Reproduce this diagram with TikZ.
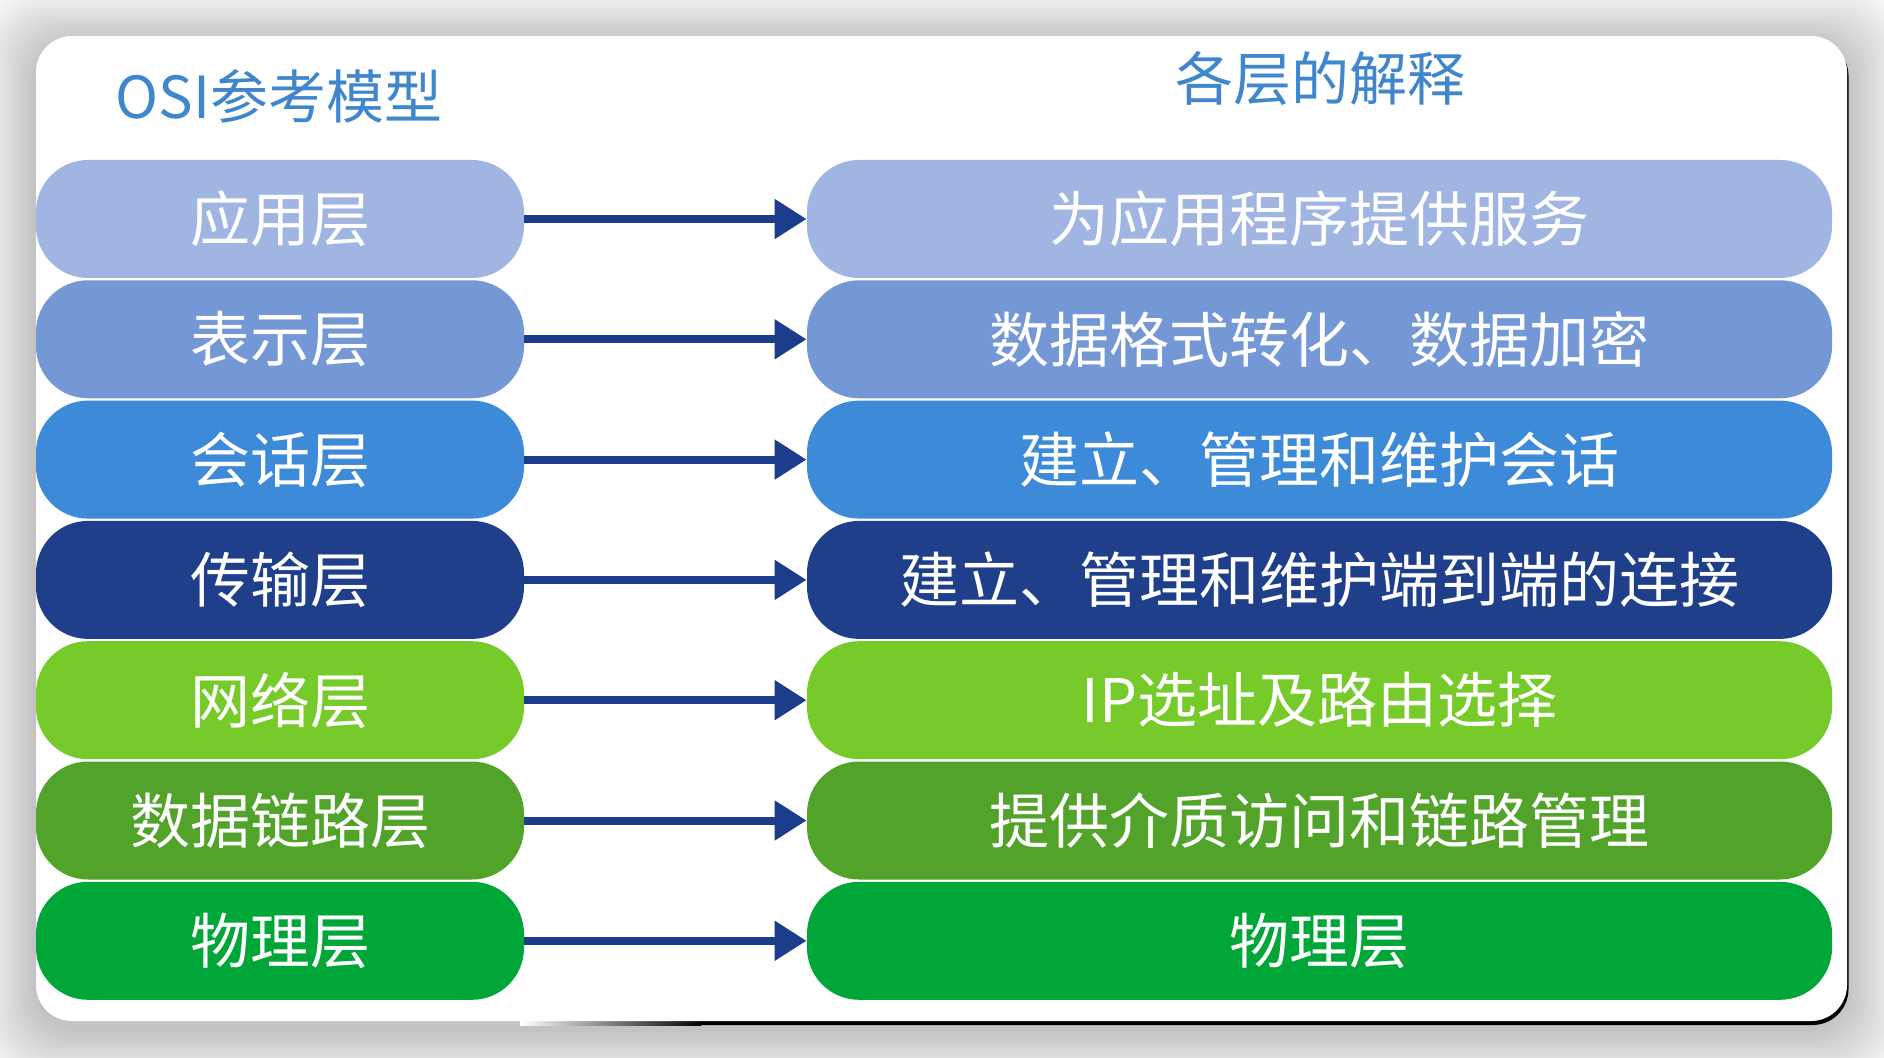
\documentclass[tikz,border=0pt]{standalone}
\usepackage{fontspec}
\setmainfont{Noto Sans CJK SC}
\usetikzlibrary{arrows.meta}
\definecolor{c1}{HTML}{A0B5E2}
\definecolor{c2}{HTML}{7497D6}
\definecolor{c3}{HTML}{3D8AD8}
\definecolor{c4}{HTML}{1F3F8B}
\definecolor{c5}{HTML}{76CB2A}
\definecolor{c6}{HTML}{52A32A}
\definecolor{c7}{HTML}{00A638}
\definecolor{arrowc}{HTML}{1C3D8C}
\definecolor{titlec}{HTML}{3F86CC}
\tikzset{
  layer/.style={rounded corners=26pt, minimum height=59pt, inner sep=0pt, text=white, font=\fontsize{30}{36}\selectfont},
  lbox/.style={layer, minimum width=244pt},
  rbox/.style={layer, minimum width=512.5pt},
  conn/.style={line width=4pt, draw=arrowc, -{Triangle[length=16pt,width=19pt]}},
  titletext/.style={text=titlec, font=\fontsize{29}{34}\selectfont, inner sep=0pt}
}
\begin{document}
\begin{tikzpicture}[x=0.5pt,y=-0.5pt]
\useasboundingbox (0,0) rectangle (1884,1058);
\fill[white] (0,0) rectangle (1884,1058);
% soft shadow
\foreach \k in {1,...,20}{
  \fill[black, opacity=0.013, rounded corners=24pt] (36-3*\k,44-3*\k) rectangle (1847+3*\k,1029+3*\k);
}
% dark edge artifact
\begin{scope}
  \clip (700,0) rectangle (1884,1058);
  \fill[black, rounded corners=18pt] (37.5,40) rectangle (1848.5,1025);
\end{scope}
\shade[left color=white, right color=black] (520,1021) rectangle (701,1025);
% card
\fill[white, rounded corners=18pt] (36,36) rectangle (1847,1021);
% titles
\node[titletext] (t1) at (279,96) {OSI参考模型};
\node[titletext] (t2) at (1320,78) {各层的解释};
% layers
\foreach \i/\col/\lt/\rt in {
  0/c1/应用层/为应用程序提供服务,
  1/c2/表示层/数据格式转化、数据加密,
  2/c3/会话层/建立、管理和维护会话,
  3/c4/传输层/建立、管理和维护端到端的连接,
  4/c5/网络层/IP选址及路由选择,
  5/c6/数据链路层/提供介质访问和链路管理,
  6/c7/物理层/物理层}{
  \node[lbox, fill=\col] (L\i) at (280,219+120.3*\i) {\lt};
  \node[rbox, fill=\col] (R\i) at (1319.5,219+120.3*\i) {\rt};
  \draw[conn] (L\i.east) -- (R\i.west);
}
\end{tikzpicture}
\end{document}
